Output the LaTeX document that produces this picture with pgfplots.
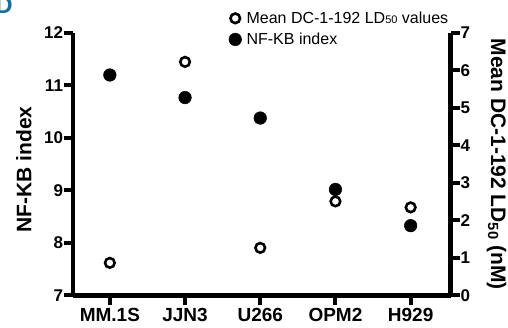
\documentclass[border=0pt]{standalone}
\usepackage{pgfplots}
\pgfplotsset{compat=1.18}
\usepackage{fontspec}
\setmainfont{Liberation Sans}
\definecolor{panelblue}{RGB}{22,112,160}
\begin{document}
\begin{tikzpicture}
\pgfplotsset{
  common/.style={
    at={(73pt,32.5pt)}, anchor=south west,
    scale only axis, width=377.5pt, height=262.5pt,
    xmin=-0.49, xmax=4.53,
    axis line style={line width=4.5pt, -},
    tick style={line width=4pt, black},
    tick align=outside, major tick length=9.5pt,
    ticklabel style={font=\bfseries\fontsize{17}{17}\selectfont},
    /pgf/number format/assume math mode=true,
    label style={font=\bfseries\fontsize{21}{21}\selectfont},
    clip=false,
  },
}
\begin{axis}[axis x line*=bottom, axis y line*=left, common,
  ymin=7, ymax=12, ytick={7,8,9,10,11,12},
  xtick={0,1,2,3,4}, xticklabels={MM.1S,JJN3,U266,OPM2,H929},
  xticklabel style={font=\bfseries\fontsize{19}{19}\selectfont},
  yticklabel style={xshift=3pt},
  ylabel={NF-KB index},
  ylabel style={at={(axis description cs:-0.13,0.48)}, anchor=center},
  legend style={draw=none, fill=none, at={(axis description cs:0.41,1.093)}, anchor=north west,
    font=\fontsize{16}{18}\selectfont, row sep=4pt, inner sep=1pt,
    /tikz/every odd column/.append style={column sep=3pt}},
  legend cell align=left,
]
\addlegendimage{only marks, mark=o, mark size=4.8pt, mark options={line width=2.6pt, draw=black, fill=white}}
\addlegendentry{Mean DC-1-192 LD{\fontsize{11}{11}\selectfont 50} values}
\addplot[only marks, mark=*, mark size=6.3pt, mark options={line width=0.5pt, draw=black, fill=black}] coordinates {
  (0,11.20) (1,10.77) (2,10.38) (3,9.02) (4,8.33)
};
\addlegendentry{NF-KB index}
\end{axis}
\begin{axis}[axis x line=none, axis y line*=right, common,
  ymin=0, ymax=7, ytick={0,1,2,3,4,5,6,7},
  yticklabel style={xshift=-3pt},
  ylabel={Mean DC-1-192 LD$_{\mathbf{50}}$ (nM)},
  ylabel style={at={(axis description cs:1.122,0.5)}, anchor=center, rotate=180},
]
\addplot[only marks, mark=o, mark size=4.8pt, mark options={line width=2.6pt, draw=black, fill=white}] coordinates {
  (0,0.87) (1,6.23) (2,1.27) (3,2.51) (4,2.35)
};
\end{axis}
\node[anchor=south east, inner sep=0pt, text=panelblue, font=\bfseries\fontsize{24}{24}\selectfont] at (13pt,314pt) {D};
\pgfresetboundingbox
\useasboundingbox (0,0) rectangle (508pt,328pt);
\end{tikzpicture}
\end{document}
